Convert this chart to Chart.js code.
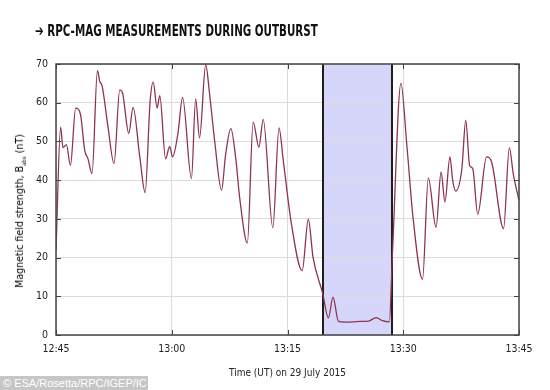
<!DOCTYPE html>
<html>
<head>
  <title>RPC-MAG measurements during outburst</title>
  <script src="https://cdn.jsdelivr.net/npm/chart.js"></script>
  <style>
    body {
      margin: 0;
      width: 550px;
      height: 390px;
      position: relative;
      overflow: hidden;
      background: #fff;
      font-family: 'DejaVu Sans Condensed', 'DejaVu Sans', sans-serif;
    }
    #wrap {
      position: absolute;
      left: 0;
      top: 0;
      width: 550px;
      height: 390px;
    }
    #title {
      position: absolute;
      left: 35px;
      top: 22px;
      font-size: 15px;
      font-weight: bold;
      color: #111;
      white-space: nowrap;
      transform: scaleX(0.765);
      transform-origin: left center;
    }
    #yTitle {
      position: absolute;
      left: 20px;
      top: 211px;
      transform: translate(-50%, -50%) rotate(-90deg);
      font-size: 10.5px;
      color: #000;
      white-space: nowrap;
    }
    #yTitle sub {
      font-size: 6px;
    }
    #credit {
      position: absolute;
      left: 0;
      top: 376px;
      width: 145px;
      height: 14px;
      padding-left: 3px;
      background: #c6c6c6;
      color: #fff;
      font-family: 'Liberation Sans', Arial, sans-serif;
      font-size: 11px;
      line-height: 14px;
      white-space: nowrap;
    }
  </style>
</head>
<body>
  <div id="wrap"><canvas id="magChart" width="550" height="390"></canvas></div>
  <div id="title">➔ RPC-MAG MEASUREMENTS DURING OUTBURST</div>
  <div id="yTitle">Magnetic field strength, B<sub>abs</sub> (nT)</div>
  <div id="credit">© ESA/Rosetta/RPC/IGEP/IC</div>

  <script>
    // minutes after 12:45 UT
    const minutes = [
      0, 0.6, 0.9, 1.35, 1.87, 2.55, 3.16, 3.72, 4.15, 4.67,
      5.37, 5.67, 5.97, 6.74, 7.52, 8.26, 8.6, 9.43, 9.99, 10.86,
      11.55, 12.2, 12.6, 13.1, 13.45, 14.2, 14.73, 15.1, 15.8, 16.4,
      17.55, 18.1, 18.6, 19.4, 19.9, 20.6, 21.45, 21.97, 22.66, 23.3,
      23.8, 24.8, 25.55, 26.3, 26.85, 28.1, 28.9, 29.45, 30.5, 31.9,
      32.7, 33.3, 34.55, 35.3, 35.9, 36.6, 37.5, 39.4, 40.5, 41.5,
      42.3, 43.2, 43.6, 44.7, 45.45, 46.3, 47.5, 48.25, 49.25, 49.9,
      50.4, 51.05, 51.4, 51.8, 52.6, 53.1, 53.6, 54.0, 54.65, 55.8,
      56.45, 58, 58.75, 59.25, 60
    ];
    // B_abs in nT
    const field = [
      22, 53.7, 48.4, 49.2, 43.8, 58.6, 57.1, 47.7, 45.5, 41.7,
      68.3, 65.5, 64.4, 53.7, 44.3, 63.3, 62.7, 52.1, 58.8, 46,
      36.8, 60.5, 65.3, 58.6, 61.8, 45.5, 48.7, 46, 52, 61.4,
      40.4, 61, 50.9, 69.8, 62.3, 49.4, 37.4, 46.4, 53.3, 45.5,
      35.5, 23.8, 55, 48.5, 55.7, 27.7, 53.5, 45.1, 28.8, 16.6,
      29.9, 20.2, 10.8, 4.4, 9.8, 3.5, 3.3, 3.5, 3.6, 4.5,
      3.7, 3.4, 21, 65, 49.4, 29.7, 14.4, 40.6, 27.8, 42.1,
      34.4, 46, 40, 37.2, 43, 55.4, 43.8, 43, 31.2, 46,
      44.7, 27.5, 48.4, 41.7, 34.8
    ];
    const tickMinutes = [0, 15, 30, 45, 60];
    const tickLabels = ['12:45', '13:00', '13:15', '13:30', '13:45'];
    const outburst = [34.6, 43.5];

    const outburstBox = {
      id: 'outburstBox',
      beforeDraw(chart) {
        const { ctx, chartArea: a, scales: { x } } = chart;
        const x1 = x.getPixelForValue(outburst[0]);
        const x2 = x.getPixelForValue(outburst[1]);
        ctx.save();
        ctx.fillStyle = '#d6d6fa';
        ctx.fillRect(x1, a.top, x2 - x1, a.bottom - a.top);
        ctx.restore();
      },
      beforeDatasetsDraw(chart) {
        const { ctx, chartArea: a, scales: { x } } = chart;
        ctx.save();
        ctx.strokeStyle = '#1e1e1e';
        ctx.lineWidth = 2;
        outburst.forEach(m => {
          const px = Math.round(x.getPixelForValue(m));
          ctx.beginPath();
          ctx.moveTo(px, a.top);
          ctx.lineTo(px, a.bottom);
          ctx.stroke();
        });
        ctx.restore();
      },
      afterDraw(chart) {
        // frame and inward tick marks
        const { ctx, chartArea: a, scales: { x, y } } = chart;
        ctx.save();
        ctx.strokeStyle = '#444';
        ctx.lineWidth = 1.5;
        ctx.strokeRect(a.left, a.top, a.right - a.left, a.bottom - a.top);
        ctx.lineWidth = 1;
        ctx.beginPath();
        y.ticks.forEach(t => {
          const py = Math.round(y.getPixelForValue(t.value)) + 0.5;
          ctx.moveTo(a.left, py); ctx.lineTo(a.left + 5, py);
          ctx.moveTo(a.right, py); ctx.lineTo(a.right - 5, py);
        });
        x.ticks.forEach(t => {
          const px = Math.round(x.getPixelForValue(t.value)) + 0.5;
          ctx.moveTo(px, a.bottom); ctx.lineTo(px, a.bottom - 5);
          ctx.moveTo(px, a.top); ctx.lineTo(px, a.top + 5);
        });
        ctx.stroke();
        ctx.restore();
      }
    };

    const ctx = document.getElementById('magChart').getContext('2d');
    new Chart(ctx, {
      type: 'line',
      data: {
        datasets: [{
          data: minutes.map((m, i) => ({ x: m, y: field[i] })),
          borderColor: '#8e3352',
          borderWidth: 1.3,
          pointRadius: 0,
          cubicInterpolationMode: 'monotone',
          fill: false
        }]
      },
      options: {
        responsive: false,
        animation: false,
        layout: { padding: { top: 64, right: 31, left: 0, bottom: 0 } },
        plugins: {
          legend: { display: false },
          tooltip: { enabled: false }
        },
        scales: {
          x: {
            type: 'linear',
            min: 0,
            max: 60,
            afterFit: s => { s.height = 55; },
            afterBuildTicks: s => { s.ticks = tickMinutes.map(v => ({ value: v })); },
            grid: { color: '#dcdcdc', drawTicks: false },
            border: { display: false },
            ticks: {
              padding: 8,
              color: '#222',
              font: { family: "'DejaVu Sans Condensed', 'DejaVu Sans', sans-serif", size: 10.5 },
              maxRotation: 0,
              callback: v => tickLabels[tickMinutes.indexOf(v)]
            },
            title: {
              display: true,
              text: 'Time (UT) on 29 July 2015',
              color: '#222',
              font: { family: "'DejaVu Sans Condensed', 'DejaVu Sans', sans-serif", size: 10 },
              padding: { top: 0, bottom: 11 }
            }
          },
          y: {
            min: 0,
            max: 70,
            afterFit: s => { s.width = 56; },
            grid: { color: '#dcdcdc', drawTicks: false },
            border: { display: false },
            ticks: {
              stepSize: 10,
              padding: 8,
              color: '#222',
              font: { family: "'DejaVu Sans Condensed', 'DejaVu Sans', sans-serif", size: 10.5 }
            }
          }
        }
      },
      plugins: [outburstBox]
    });
  </script>
</body>
</html>
